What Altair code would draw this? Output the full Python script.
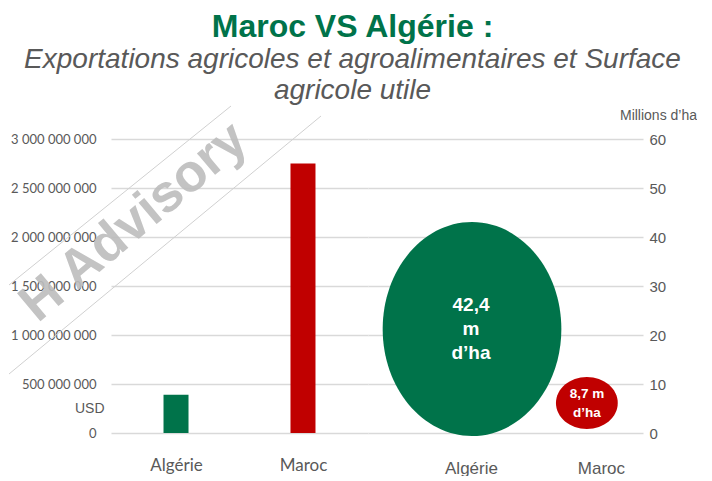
import altair as alt
import pandas as pd

# ---- data ----
pays = ["Algérie", "Maroc"]
exportations_usd = [390_000_000, 2_750_000_000]
surface_mha = [42.4, 8.7]
etiquettes = ["42,4\nm\nd’ha", "8,7 m\nd’ha"]
usd_ticks = [0, 500_000_000, 1_000_000_000, 1_500_000_000,
             2_000_000_000, 2_500_000_000, 3_000_000_000]
mha_ticks = [0, 10, 20, 30, 40, 50, 60]

GREEN = "#00734A"
RED = "#C00000"
GREY = "#595959"
GRID = "#D9D9D9"
H = 294
WL = 257
WR = 275

df = pd.DataFrame({"pays": pays, "usd": exportations_usd,
                   "mha": surface_mha, "etiquette": etiquettes})

color = alt.Color("pays:N", scale=alt.Scale(domain=pays, range=[GREEN, RED]), legend=None)

# ---------------- left panel : exports (bars) ----------------
xl = alt.X("pays:N", sort=pays,
           scale=alt.Scale(type="point", padding=0.512),
           axis=alt.Axis(title=None, labelAngle=0, labelFont="Lato", labelFontSize=17,
                         labelColor=GREY, labelPadding=24, ticks=False, domain=False, grid=False))
yl = alt.Y("usd:Q", scale=alt.Scale(domain=[0, 3_000_000_000]),
           axis=alt.Axis(values=usd_ticks,
                         labelExpr="replace(format(datum.value, ',d'), regexp(',', 'g'), ' ')",
                         title="USD", titleAngle=0, titleAlign="right", titleBaseline="middle",
                         titleX=-7, titleY=269, titleFont="Liberation Sans", titleFontSize=14,
                         titleFontWeight="normal", titleColor=GREY,
                         labelFont="Lato", labelFontSize=13, labelColor=GREY, labelPadding=15,
                         ticks=False, domain=False, gridColor=GRID, gridWidth=1.3))

bars = alt.Chart(df).mark_bar(size=25).encode(x=xl, y=yl, color=color)

wm_text = alt.Chart(df).transform_filter(alt.datum.pays == "Algérie").mark_text(
    text="H Advisory", angle=320, font="Liberation Sans", fontWeight="bold",
    fontSize=53, color="#BDBDBD", opacity=0.9
).encode(x=alt.value(23), y=alt.value(83))

wm_line1 = alt.Chart(df).transform_filter(alt.datum.pays == "Algérie").mark_rule(
    color="#D0D0D0", strokeWidth=1
).encode(x=alt.value(120), y=alt.value(-33), x2=alt.value(-102), y2=alt.value(146))
wm_line2 = alt.Chart(df).transform_filter(alt.datum.pays == "Algérie").mark_rule(
    color="#D0D0D0", strokeWidth=1
).encode(x=alt.value(210), y=alt.value(-23), x2=alt.value(-102), y2=alt.value(235))

left = alt.layer(wm_line1, wm_line2, wm_text, bars).properties(width=WL, height=H)

# ---------------- right panel : surface (ellipses) ----------------
path_alg = "M -0.85,0 A 0.86,1.03 0 1,0 0.87,0 A 0.86,1.03 0 1,0 -0.85,0 Z"
path_mar = "M -2.11,-0.41 A 1.45,1.22 0 1,0 0.79,-0.41 A 1.45,1.22 0 1,0 -2.11,-0.41 Z"

xr = alt.X("pays:N", sort=pays,
           scale=alt.Scale(type="point", padding=0.558, align=0.71),
           axis=alt.Axis(title=None, labelAngle=0, labelFont="Liberation Sans", labelFontSize=17,
                         labelColor=GREY, labelPadding=27, ticks=False, domain=False, grid=False))
yr = alt.Y("centre:Q", scale=alt.Scale(domain=[0, 60]),
           axis=alt.Axis(orient="right", values=mha_ticks, title="Millions d’ha",
                         titleAngle=0, titleAlign="center", titleBaseline="middle",
                         titleX=15, titleY=-24, titleFont="Liberation Sans", titleFontSize=14,
                         titleFontWeight="normal", titleColor=GREY,
                         labelFont="Liberation Sans", labelFontSize=15, labelColor=GREY,
                         labelPadding=6, ticks=False, domain=False, gridColor=GRID, gridWidth=1.3))

rbase = alt.Chart(df).transform_calculate(aire="datum.mha * datum.mha", centre="datum.mha / 2")

ellipses = rbase.mark_point(filled=True, opacity=1, strokeWidth=0).encode(
    x=xr, y=yr, color=color,
    shape=alt.Shape("pays:N", scale=alt.Scale(domain=pays, range=[path_alg, path_mar]), legend=None),
    size=alt.Size("aire:Q", scale=alt.Scale(domain=[0, 3600], range=[0, H * H]), legend=None),
)

txt_alg = rbase.transform_filter(alt.datum.pays == "Algérie").mark_text(
    font="Liberation Sans", fontWeight="bold", fontSize=19, color="white",
    lineBreak="\n", lineHeight=24, baseline="middle", dx=0, dy=-24
).encode(x=xr, y=yr, text="etiquette:N")

txt_mar = rbase.transform_filter(alt.datum.pays == "Maroc").mark_text(
    font="Liberation Sans", fontWeight="bold", fontSize=13.5, color="white",
    lineBreak="\n", lineHeight=19, baseline="middle", dx=-14, dy=-18
).encode(x=xr, y=yr, text="etiquette:N")

right = alt.layer(ellipses, txt_alg, txt_mar).properties(width=WR, height=H)

chart = alt.hconcat(left, right, spacing=0).properties(
    title=alt.TitleParams(
        text="Maroc VS Algérie :",
        subtitle=["Exportations agricoles et agroalimentaires et Surface", "agricole utile"],
        anchor="middle", font="Liberation Sans", fontSize=32, fontWeight="bold", color=GREEN,
        subtitleFont="Liberation Sans", subtitleFontSize=28, subtitleFontStyle="italic",
        subtitleColor=GREY, subtitleLineHeight=31, subtitlePadding=2, offset=0,
    ),
    padding={"left": 0, "top": 2, "right": 0, "bottom": 0},
).configure_view(stroke=None)

chart.save("out.html", embed_options={"renderer": "svg", "actions": False})
